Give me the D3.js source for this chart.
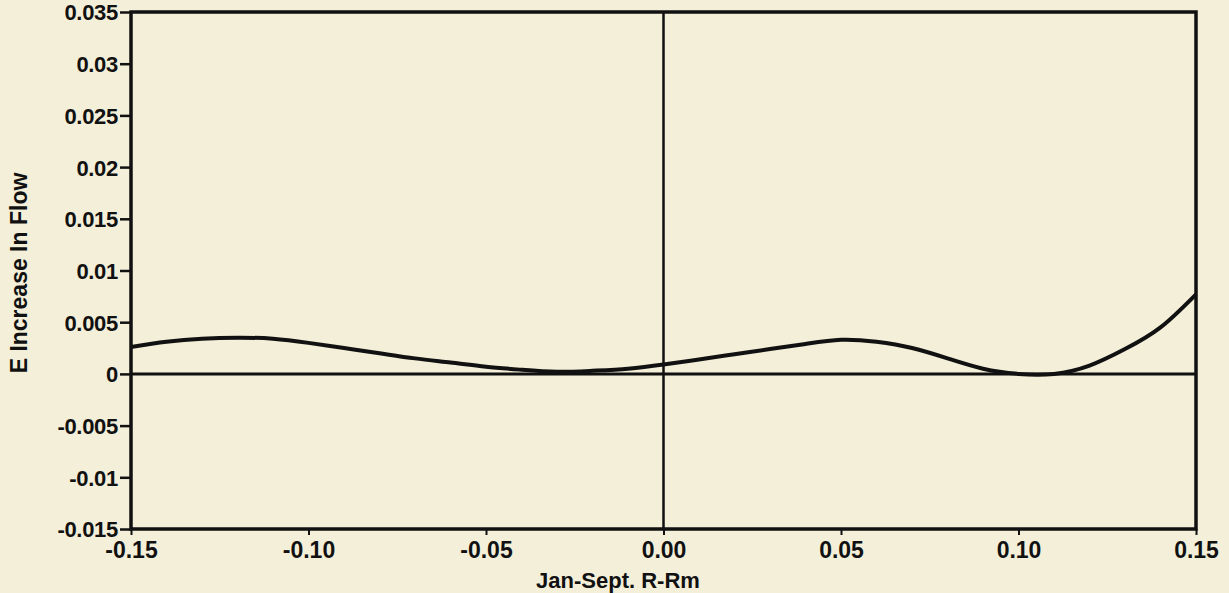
<!DOCTYPE html>
<html>
<head>
<meta charset="utf-8">
<script src="https://cdn.jsdelivr.net/npm/d3@7"></script>
<style>
    body { margin: 0; background: #f3efd9; }
    svg { display: block; }
    text { font-family: "Liberation Sans", Arial, sans-serif; font-weight: bold; fill: #111; }
</style>
</head>
<body>
<svg id="chart"></svg>
<script>
// values
const xs = [-0.15, -0.14, -0.13, -0.12, -0.11, -0.10, -0.09, -0.08, -0.07, -0.06, -0.05, -0.04, -0.03, -0.02, -0.01,
    0.00, 0.01, 0.02, 0.03, 0.04, 0.05, 0.06, 0.07, 0.08, 0.09, 0.10, 0.11, 0.12, 0.13, 0.14, 0.15];
const flow = [0.0026, 0.0031, 0.0034, 0.0035, 0.0034, 0.0030, 0.0025, 0.0020, 0.0015, 0.0011, 0.0007, 0.0004, 0.0002, 0.0003, 0.0005,
    0.0009, 0.0014, 0.0019, 0.0024, 0.0029, 0.0033, 0.0031, 0.0025, 0.0015, 0.0005, 0.0000, 0.0000, 0.0008, 0.0024, 0.0045, 0.0077];

const x_ticks = [-0.15, -0.10, -0.05, 0.00, 0.05, 0.10, 0.15];
const x_tick_labels = ["-0.15", "-0.10", "-0.05", "0.00", "0.05", "0.10", "0.15"];
const y_ticks = [0.035, 0.03, 0.025, 0.02, 0.015, 0.01, 0.005, 0, -0.005, -0.01, -0.015];
const y_tick_labels = ["0.035", "0.03", "0.025", "0.02", "0.015", "0.01", "0.005", "0", "-0.005", "-0.01", "-0.015"];

const x_title = "Jan-Sept. R-Rm";
const y_title = "E Increase In Flow";

const margin = {top: 12, right: 33, bottom: 64, left: 131},
    W = 1229, H = 593,
    width = W - margin.left - margin.right,
    height = H - margin.top - margin.bottom;

const svg = d3.select("#chart")
    .attr("width", W)
    .attr("height", H);

const g = svg.append("g")
    .attr("transform", "translate(" + margin.left + "," + margin.top + ")");

const xScale = d3.scaleLinear().domain([-0.15, 0.15]).range([0, width]);
const yScale = d3.scaleLinear().domain([-0.015, 0.035]).range([height, 0]);

// y axis ticks + labels
const yAxis = g.append("g")
    .attr("class", "y-axis")
    .call(d3.axisLeft(yScale)
        .tickValues(y_ticks)
        .tickSize(11)
        .tickPadding(2)
        .tickFormat(function (d, i) { return y_tick_labels[i]; }));
yAxis.select(".domain").remove();
yAxis.selectAll("line").attr("stroke", "#111").attr("stroke-width", 2.5);
yAxis.selectAll("text")
    .style("font-size", "22px")
    .style("letter-spacing", "-0.3px")
    .attr("dy", "0.36em")
    .attr("fill", "#111");

// x axis ticks + labels
const xAxis = g.append("g")
    .attr("class", "x-axis")
    .attr("transform", "translate(0," + height + ")")
    .call(d3.axisBottom(xScale)
        .tickValues(x_ticks)
        .tickSize(6)
        .tickPadding(7)
        .tickFormat(function (d, i) { return x_tick_labels[i]; }));
xAxis.select(".domain").remove();
xAxis.selectAll("line").attr("stroke", "#111").attr("stroke-width", 2);
xAxis.selectAll("text").style("font-size", "23px").attr("fill", "#111");

// zero lines
g.append("line")
    .attr("x1", 0).attr("x2", width)
    .attr("y1", yScale(0)).attr("y2", yScale(0))
    .attr("stroke", "#111").attr("stroke-width", 3);
g.append("line")
    .attr("x1", xScale(0)).attr("x2", xScale(0))
    .attr("y1", 0).attr("y2", height)
    .attr("stroke", "#111").attr("stroke-width", 2.5);

// curve
const pts = xs.map(function (d, i) { return {x: d, y: flow[i]}; });
const line = d3.line()
    .x(function (d) { return xScale(d.x); })
    .y(function (d) { return yScale(d.y); })
    .curve(d3.curveNatural);

g.append("path")
    .datum(pts)
    .attr("d", line)
    .attr("fill", "none")
    .attr("stroke", "#111")
    .attr("stroke-width", 4)
    .attr("stroke-linejoin", "round");

// frame
g.append("rect")
    .attr("x", 0).attr("y", 0)
    .attr("width", width).attr("height", height)
    .attr("fill", "none")
    .attr("stroke", "#111")
    .attr("stroke-width", 3.5);

// axis titles
svg.append("text")
    .attr("x", 618)
    .attr("y", 588)
    .attr("text-anchor", "middle")
    .style("font-size", "22px")
    .text(x_title);

svg.append("text")
    .attr("transform", "translate(27,273) rotate(-90)")
    .attr("text-anchor", "middle")
    .style("font-size", "23px")
    .text(y_title);
</script>
</body>
</html>
